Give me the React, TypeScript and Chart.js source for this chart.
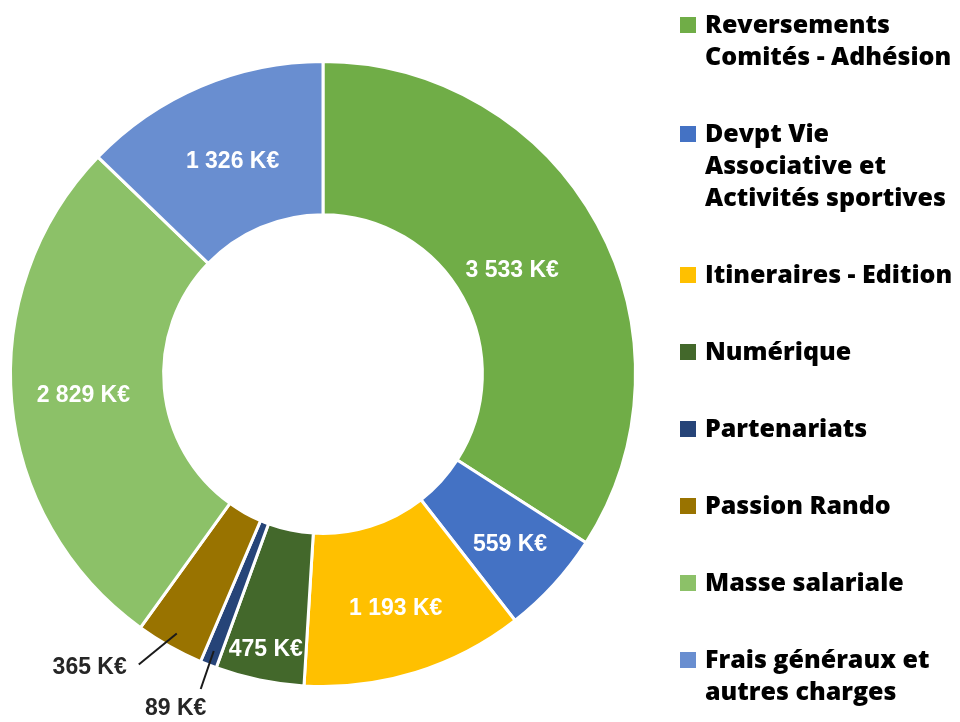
import React, { useEffect, useRef } from 'react';
import { Chart, registerables } from 'chart.js';

Chart.register(...registerables);

const categories = [
  'Reversements Comités - Adhésion',
  'Devpt Vie Associative et Activités sportives',
  'Itineraires - Edition',
  'Numérique',
  'Partenariats',
  'Passion Rando',
  'Masse salariale',
  'Frais généraux et autres charges',
];
const legendLines = [
  ['Reversements', 'Comités - Adhésion'],
  ['Devpt Vie', 'Associative et', 'Activités sportives'],
  ['Itineraires - Edition'],
  ['Numérique'],
  ['Partenariats'],
  ['Passion Rando'],
  ['Masse salariale'],
  ['Frais généraux et', 'autres charges'],
];
const values = [3533, 559, 1193, 475, 89, 365, 2829, 1326];
const colors = ['#70AD47', '#4472C4', '#FFC000', '#43682B', '#264478', '#997300', '#8CC168', '#698ED0'];

const fmt = (v: number) => {
  const s = v >= 1000 ? Math.floor(v / 1000) + ' ' + String(v % 1000).padStart(3, '0') : String(v);
  return s + ' K€';
};

// label placement: inside (radius fraction of outer radius) or outside with leader line
const placements: any[] = [
  { type: 'in', r: 0.69 },
  { type: 'in', r: 0.81 },
  { type: 'in', r: 0.785 },
  { type: 'in', r: 0.9 },
  { type: 'out', lx: -13, ly: 38, dx: -25, dy: 20, align: 'center' },
  { type: 'out', lx: -38, ly: 31, dx: -12, dy: 3, align: 'right' },
  { type: 'in', r: 0.77 },
  { type: 'in', r: 0.74 },
];

const labelPlugin = {
  id: 'labelPlugin',
  afterDatasetsDraw(chart: any) {
    const ctx = chart.ctx;
    const meta = chart.getDatasetMeta(0);
    ctx.save();
    ctx.font = 'bold 23px "Liberation Sans", Arial, sans-serif';
    ctx.textBaseline = 'middle';
    meta.data.forEach((arc: any, i: number) => {
      const { x, y, startAngle, endAngle, outerRadius } = arc.getProps(['x', 'y', 'startAngle', 'endAngle', 'outerRadius'], true);
      const mid = (startAngle + endAngle) / 2;
      const p = placements[i];
      const text = fmt(values[i]);
      if (p.type === 'in') {
        const r = outerRadius * p.r;
        ctx.fillStyle = '#FFFFFF';
        ctx.textAlign = 'center';
        ctx.fillText(text, x + Math.cos(mid) * r, y + Math.sin(mid) * r);
      } else {
        const r1 = outerRadius * 0.953;
        const x1 = x + Math.cos(mid) * r1, y1 = y + Math.sin(mid) * r1;
        const x2 = x1 + p.lx, y2 = y1 + p.ly;
        ctx.strokeStyle = '#1a1a1a';
        ctx.lineWidth = 2;
        ctx.beginPath();
        ctx.moveTo(x1, y1);
        ctx.lineTo(x2, y2);
        ctx.stroke();
        ctx.fillStyle = '#262626';
        ctx.textAlign = p.align;
        ctx.fillText(text, x2 + p.dx, y2 + p.dy);
      }
    });
    ctx.restore();
  },
};

const legendPlugin = {
  id: 'sideLegend',
  afterDraw(chart: any) {
    const ctx = chart.ctx;
    ctx.save();
    ctx.font = '800 25px "Open Sans", Lato, sans-serif';
    ctx.textBaseline = 'alphabetic';
    ctx.textAlign = 'left';
    const lineH = 32;
    const gap = 45;
    let base = 33;
    legendLines.forEach((lines, i) => {
      ctx.fillStyle = colors[i];
      ctx.fillRect(680, base - 16, 16, 16);
      ctx.fillStyle = '#000000';
      lines.forEach((ln, j) => {
        ctx.fillText(ln, 705, base + j * lineH);
      });
      base += lines.length * lineH + gap;
    });
    ctx.restore();
  },
};

export default function App() {
  const ref = useRef<HTMLCanvasElement>(null);
  useEffect(() => {
    if (!ref.current) return;
    const chart = new Chart(ref.current, {
      type: 'doughnut',
      data: {
        labels: categories,
        datasets: [
          {
            data: values,
            backgroundColor: colors,
            borderColor: '#FFFFFF',
            borderWidth: 3,
          },
        ],
      },
      options: {
        responsive: false,
        animation: false,
        cutout: '51%',
        layout: { padding: { left: 9, right: 323, top: 59, bottom: 33 } },
        plugins: {
          legend: { display: false },
          tooltip: { enabled: false },
        },
      },
      plugins: [labelPlugin, legendPlugin],
    });
    return () => chart.destroy();
  }, []);
  return (
    <div style={{ position: 'fixed', left: 0, top: 0, width: 960, height: 722, background: '#fff' }}>
      <canvas ref={ref} width={960} height={722} style={{ width: 960, height: 722 }} />
    </div>
  );
}
